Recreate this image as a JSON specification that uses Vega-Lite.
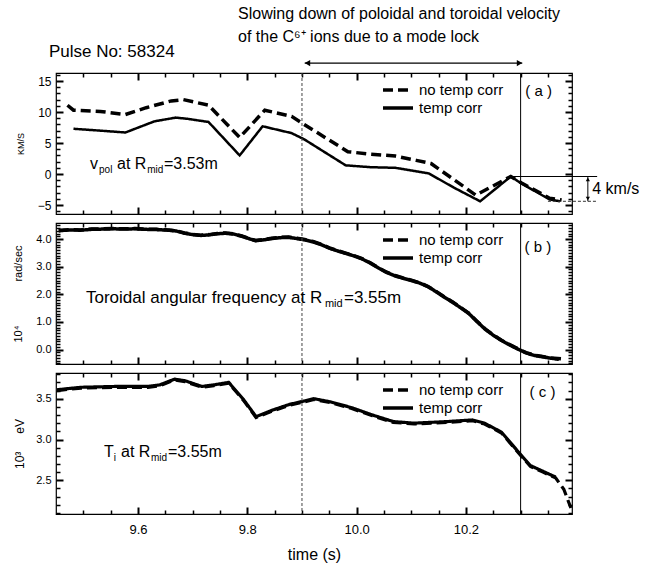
{
  "$schema": "https://vega.github.io/schema/vega-lite/v6.json",
  "background": "white",
  "padding": {"left": 12, "top": 5, "right": 2, "bottom": 2},
  "spacing": 4,
  "config": {
    "font": "Liberation Sans",
    "view": {"stroke": "black", "strokeWidth": 1.2},
    "axis": {"grid": false, "domain": false, "zindex": 1, "labelColor": "black", "titleColor": "black", "titleFontWeight": "normal", "labelFont": "Liberation Sans", "titleFont": "Liberation Sans"},
    "text": {"font": "Liberation Sans", "color": "black"},
    "legend": {"orient": "none", "legendX": 325, "legendY": 9, "title": null, "symbolType": "stroke", "symbolSize": 900, "symbolStrokeWidth": 3.5, "symbolStrokeColor": "black", "labelFontSize": 15, "labelFont": "Liberation Sans", "labelColor": "black", "clipHeight": 16, "rowPadding": 2, "labelOffset": 4}
  },
  "datasets": {
    "a": [
      {"t": 9.471, "v": 11.1, "s": "no temp corr"},
      {"t": 9.482, "v": 10.3, "s": "no temp corr"},
      {"t": 9.531, "v": 10.1, "s": "no temp corr"},
      {"t": 9.577, "v": 9.6, "s": "no temp corr"},
      {"t": 9.615, "v": 10.7, "s": "no temp corr"},
      {"t": 9.661, "v": 11.8, "s": "no temp corr"},
      {"t": 9.683, "v": 12.0, "s": "no temp corr"},
      {"t": 9.729, "v": 11.1, "s": "no temp corr"},
      {"t": 9.786, "v": 5.9, "s": "no temp corr"},
      {"t": 9.832, "v": 10.3, "s": "no temp corr"},
      {"t": 9.881, "v": 9.3, "s": "no temp corr"},
      {"t": 9.904, "v": 8.0, "s": "no temp corr"},
      {"t": 9.984, "v": 3.6, "s": "no temp corr"},
      {"t": 10.026, "v": 3.2, "s": "no temp corr"},
      {"t": 10.071, "v": 2.9, "s": "no temp corr"},
      {"t": 10.109, "v": 2.2, "s": "no temp corr"},
      {"t": 10.136, "v": 1.7, "s": "no temp corr"},
      {"t": 10.218, "v": -3.4, "s": "no temp corr"},
      {"t": 10.282, "v": -0.4, "s": "no temp corr"},
      {"t": 10.301, "v": -1.4, "s": "no temp corr"},
      {"t": 10.353, "v": -3.9, "s": "no temp corr"},
      {"t": 10.375, "v": -4.2, "s": "no temp corr"},
      {"t": 9.482, "v": 7.3, "s": "temp corr"},
      {"t": 9.531, "v": 7.0, "s": "temp corr"},
      {"t": 9.577, "v": 6.7, "s": "temp corr"},
      {"t": 9.63, "v": 8.5, "s": "temp corr"},
      {"t": 9.669, "v": 9.1, "s": "temp corr"},
      {"t": 9.691, "v": 8.9, "s": "temp corr"},
      {"t": 9.729, "v": 8.4, "s": "temp corr"},
      {"t": 9.786, "v": 3.0, "s": "temp corr"},
      {"t": 9.828, "v": 7.7, "s": "temp corr"},
      {"t": 9.881, "v": 6.6, "s": "temp corr"},
      {"t": 9.904, "v": 5.6, "s": "temp corr"},
      {"t": 9.98, "v": 1.4, "s": "temp corr"},
      {"t": 10.026, "v": 1.1, "s": "temp corr"},
      {"t": 10.071, "v": 1.0, "s": "temp corr"},
      {"t": 10.132, "v": 0.1, "s": "temp corr"},
      {"t": 10.178, "v": -2.2, "s": "temp corr"},
      {"t": 10.226, "v": -4.4, "s": "temp corr"},
      {"t": 10.282, "v": -0.4, "s": "temp corr"},
      {"t": 10.301, "v": -1.5, "s": "temp corr"},
      {"t": 10.353, "v": -4.1, "s": "temp corr"},
      {"t": 10.372, "v": -4.4, "s": "temp corr"}
    ],
    "b": [
      {"t": 9.455, "v": 4.31, "s": "no temp corr"},
      {"t": 9.475, "v": 4.34, "s": "no temp corr"},
      {"t": 9.495, "v": 4.33, "s": "no temp corr"},
      {"t": 9.515, "v": 4.36, "s": "no temp corr"},
      {"t": 9.535, "v": 4.37, "s": "no temp corr"},
      {"t": 9.555, "v": 4.38, "s": "no temp corr"},
      {"t": 9.575, "v": 4.37, "s": "no temp corr"},
      {"t": 9.595, "v": 4.38, "s": "no temp corr"},
      {"t": 9.615, "v": 4.36, "s": "no temp corr"},
      {"t": 9.635, "v": 4.35, "s": "no temp corr"},
      {"t": 9.655, "v": 4.33, "s": "no temp corr"},
      {"t": 9.67, "v": 4.30, "s": "no temp corr"},
      {"t": 9.685, "v": 4.22, "s": "no temp corr"},
      {"t": 9.7, "v": 4.17, "s": "no temp corr"},
      {"t": 9.715, "v": 4.14, "s": "no temp corr"},
      {"t": 9.73, "v": 4.16, "s": "no temp corr"},
      {"t": 9.745, "v": 4.20, "s": "no temp corr"},
      {"t": 9.76, "v": 4.22, "s": "no temp corr"},
      {"t": 9.775, "v": 4.19, "s": "no temp corr"},
      {"t": 9.79, "v": 4.11, "s": "no temp corr"},
      {"t": 9.805, "v": 4.01, "s": "no temp corr"},
      {"t": 9.815, "v": 3.95, "s": "no temp corr"},
      {"t": 9.83, "v": 3.98, "s": "no temp corr"},
      {"t": 9.845, "v": 4.03, "s": "no temp corr"},
      {"t": 9.86, "v": 4.06, "s": "no temp corr"},
      {"t": 9.875, "v": 4.07, "s": "no temp corr"},
      {"t": 9.89, "v": 4.03, "s": "no temp corr"},
      {"t": 9.905, "v": 3.98, "s": "no temp corr"},
      {"t": 9.92, "v": 3.91, "s": "no temp corr"},
      {"t": 9.935, "v": 3.81, "s": "no temp corr"},
      {"t": 9.95, "v": 3.68, "s": "no temp corr"},
      {"t": 9.965, "v": 3.58, "s": "no temp corr"},
      {"t": 9.98, "v": 3.49, "s": "no temp corr"},
      {"t": 9.995, "v": 3.40, "s": "no temp corr"},
      {"t": 10.01, "v": 3.29, "s": "no temp corr"},
      {"t": 10.025, "v": 3.14, "s": "no temp corr"},
      {"t": 10.04, "v": 2.96, "s": "no temp corr"},
      {"t": 10.055, "v": 2.80, "s": "no temp corr"},
      {"t": 10.07, "v": 2.68, "s": "no temp corr"},
      {"t": 10.085, "v": 2.59, "s": "no temp corr"},
      {"t": 10.1, "v": 2.51, "s": "no temp corr"},
      {"t": 10.115, "v": 2.42, "s": "no temp corr"},
      {"t": 10.13, "v": 2.29, "s": "no temp corr"},
      {"t": 10.145, "v": 2.11, "s": "no temp corr"},
      {"t": 10.16, "v": 1.91, "s": "no temp corr"},
      {"t": 10.175, "v": 1.73, "s": "no temp corr"},
      {"t": 10.19, "v": 1.53, "s": "no temp corr"},
      {"t": 10.205, "v": 1.32, "s": "no temp corr"},
      {"t": 10.22, "v": 1.03, "s": "no temp corr"},
      {"t": 10.235, "v": 0.75, "s": "no temp corr"},
      {"t": 10.25, "v": 0.53, "s": "no temp corr"},
      {"t": 10.265, "v": 0.34, "s": "no temp corr"},
      {"t": 10.28, "v": 0.18, "s": "no temp corr"},
      {"t": 10.295, "v": 0.03, "s": "no temp corr"},
      {"t": 10.31, "v": -0.11, "s": "no temp corr"},
      {"t": 10.325, "v": -0.20, "s": "no temp corr"},
      {"t": 10.34, "v": -0.25, "s": "no temp corr"},
      {"t": 10.355, "v": -0.30, "s": "no temp corr"},
      {"t": 10.375, "v": -0.33, "s": "no temp corr"},
      {"t": 9.455, "v": 4.30, "s": "temp corr"},
      {"t": 9.475, "v": 4.33, "s": "temp corr"},
      {"t": 9.495, "v": 4.32, "s": "temp corr"},
      {"t": 9.515, "v": 4.35, "s": "temp corr"},
      {"t": 9.535, "v": 4.36, "s": "temp corr"},
      {"t": 9.555, "v": 4.37, "s": "temp corr"},
      {"t": 9.575, "v": 4.36, "s": "temp corr"},
      {"t": 9.595, "v": 4.37, "s": "temp corr"},
      {"t": 9.615, "v": 4.35, "s": "temp corr"},
      {"t": 9.635, "v": 4.34, "s": "temp corr"},
      {"t": 9.655, "v": 4.32, "s": "temp corr"},
      {"t": 9.67, "v": 4.29, "s": "temp corr"},
      {"t": 9.685, "v": 4.21, "s": "temp corr"},
      {"t": 9.7, "v": 4.16, "s": "temp corr"},
      {"t": 9.715, "v": 4.13, "s": "temp corr"},
      {"t": 9.73, "v": 4.15, "s": "temp corr"},
      {"t": 9.745, "v": 4.19, "s": "temp corr"},
      {"t": 9.76, "v": 4.21, "s": "temp corr"},
      {"t": 9.775, "v": 4.18, "s": "temp corr"},
      {"t": 9.79, "v": 4.10, "s": "temp corr"},
      {"t": 9.805, "v": 4.00, "s": "temp corr"},
      {"t": 9.815, "v": 3.94, "s": "temp corr"},
      {"t": 9.83, "v": 3.97, "s": "temp corr"},
      {"t": 9.845, "v": 4.02, "s": "temp corr"},
      {"t": 9.86, "v": 4.05, "s": "temp corr"},
      {"t": 9.875, "v": 4.06, "s": "temp corr"},
      {"t": 9.89, "v": 4.02, "s": "temp corr"},
      {"t": 9.905, "v": 3.97, "s": "temp corr"},
      {"t": 9.92, "v": 3.90, "s": "temp corr"},
      {"t": 9.935, "v": 3.80, "s": "temp corr"},
      {"t": 9.95, "v": 3.67, "s": "temp corr"},
      {"t": 9.965, "v": 3.57, "s": "temp corr"},
      {"t": 9.98, "v": 3.48, "s": "temp corr"},
      {"t": 9.995, "v": 3.39, "s": "temp corr"},
      {"t": 10.01, "v": 3.28, "s": "temp corr"},
      {"t": 10.025, "v": 3.13, "s": "temp corr"},
      {"t": 10.04, "v": 2.95, "s": "temp corr"},
      {"t": 10.055, "v": 2.79, "s": "temp corr"},
      {"t": 10.07, "v": 2.67, "s": "temp corr"},
      {"t": 10.085, "v": 2.58, "s": "temp corr"},
      {"t": 10.1, "v": 2.50, "s": "temp corr"},
      {"t": 10.115, "v": 2.41, "s": "temp corr"},
      {"t": 10.13, "v": 2.28, "s": "temp corr"},
      {"t": 10.145, "v": 2.10, "s": "temp corr"},
      {"t": 10.16, "v": 1.90, "s": "temp corr"},
      {"t": 10.175, "v": 1.72, "s": "temp corr"},
      {"t": 10.19, "v": 1.52, "s": "temp corr"},
      {"t": 10.205, "v": 1.31, "s": "temp corr"},
      {"t": 10.22, "v": 1.02, "s": "temp corr"},
      {"t": 10.235, "v": 0.74, "s": "temp corr"},
      {"t": 10.25, "v": 0.52, "s": "temp corr"},
      {"t": 10.265, "v": 0.33, "s": "temp corr"},
      {"t": 10.28, "v": 0.17, "s": "temp corr"},
      {"t": 10.295, "v": 0.02, "s": "temp corr"},
      {"t": 10.31, "v": -0.12, "s": "temp corr"},
      {"t": 10.325, "v": -0.21, "s": "temp corr"},
      {"t": 10.34, "v": -0.26, "s": "temp corr"},
      {"t": 10.355, "v": -0.31, "s": "temp corr"},
      {"t": 10.37, "v": -0.35, "s": "temp corr"}
    ],
    "c": [
      {"t": 9.452, "v": 3.60, "s": "no temp corr"},
      {"t": 9.496, "v": 3.63, "s": "no temp corr"},
      {"t": 9.557, "v": 3.64, "s": "no temp corr"},
      {"t": 9.618, "v": 3.64, "s": "no temp corr"},
      {"t": 9.64, "v": 3.66, "s": "no temp corr"},
      {"t": 9.667, "v": 3.73, "s": "no temp corr"},
      {"t": 9.686, "v": 3.71, "s": "no temp corr"},
      {"t": 9.717, "v": 3.64, "s": "no temp corr"},
      {"t": 9.739, "v": 3.66, "s": "no temp corr"},
      {"t": 9.766, "v": 3.69, "s": "no temp corr"},
      {"t": 9.793, "v": 3.48, "s": "no temp corr"},
      {"t": 9.816, "v": 3.27, "s": "no temp corr"},
      {"t": 9.846, "v": 3.35, "s": "no temp corr"},
      {"t": 9.877, "v": 3.42, "s": "no temp corr"},
      {"t": 9.903, "v": 3.46, "s": "no temp corr"},
      {"t": 9.922, "v": 3.49, "s": "no temp corr"},
      {"t": 9.953, "v": 3.45, "s": "no temp corr"},
      {"t": 9.991, "v": 3.38, "s": "no temp corr"},
      {"t": 10.029, "v": 3.29, "s": "no temp corr"},
      {"t": 10.067, "v": 3.21, "s": "no temp corr"},
      {"t": 10.105, "v": 3.19, "s": "no temp corr"},
      {"t": 10.166, "v": 3.21, "s": "no temp corr"},
      {"t": 10.212, "v": 3.23, "s": "no temp corr"},
      {"t": 10.234, "v": 3.19, "s": "no temp corr"},
      {"t": 10.265, "v": 3.08, "s": "no temp corr"},
      {"t": 10.302, "v": 2.79, "s": "no temp corr"},
      {"t": 10.318, "v": 2.67, "s": "no temp corr"},
      {"t": 10.341, "v": 2.60, "s": "no temp corr"},
      {"t": 10.364, "v": 2.53, "s": "no temp corr"},
      {"t": 10.379, "v": 2.39, "s": "no temp corr"},
      {"t": 10.392, "v": 2.16, "s": "no temp corr"},
      {"t": 9.452, "v": 3.61, "s": "temp corr"},
      {"t": 9.496, "v": 3.64, "s": "temp corr"},
      {"t": 9.557, "v": 3.65, "s": "temp corr"},
      {"t": 9.618, "v": 3.65, "s": "temp corr"},
      {"t": 9.64, "v": 3.67, "s": "temp corr"},
      {"t": 9.667, "v": 3.74, "s": "temp corr"},
      {"t": 9.686, "v": 3.72, "s": "temp corr"},
      {"t": 9.717, "v": 3.65, "s": "temp corr"},
      {"t": 9.739, "v": 3.67, "s": "temp corr"},
      {"t": 9.766, "v": 3.70, "s": "temp corr"},
      {"t": 9.793, "v": 3.49, "s": "temp corr"},
      {"t": 9.816, "v": 3.28, "s": "temp corr"},
      {"t": 9.846, "v": 3.36, "s": "temp corr"},
      {"t": 9.877, "v": 3.43, "s": "temp corr"},
      {"t": 9.903, "v": 3.47, "s": "temp corr"},
      {"t": 9.922, "v": 3.50, "s": "temp corr"},
      {"t": 9.953, "v": 3.46, "s": "temp corr"},
      {"t": 9.991, "v": 3.39, "s": "temp corr"},
      {"t": 10.029, "v": 3.30, "s": "temp corr"},
      {"t": 10.067, "v": 3.22, "s": "temp corr"},
      {"t": 10.105, "v": 3.20, "s": "temp corr"},
      {"t": 10.166, "v": 3.22, "s": "temp corr"},
      {"t": 10.212, "v": 3.24, "s": "temp corr"},
      {"t": 10.234, "v": 3.20, "s": "temp corr"},
      {"t": 10.265, "v": 3.09, "s": "temp corr"},
      {"t": 10.302, "v": 2.80, "s": "temp corr"},
      {"t": 10.318, "v": 2.68, "s": "temp corr"},
      {"t": 10.341, "v": 2.61, "s": "temp corr"},
      {"t": 10.364, "v": 2.54, "s": "temp corr"}
    ]
  },
  "resolve": {"scale": {"x": "independent", "y": "independent", "strokeDash": "independent"}, "legend": {"strokeDash": "independent"}},
  "vconcat": [
    {
      "width": 516, "height": 141,
      "data": {"name": "a"},
      "resolve": {"axis": {"x": "independent", "y": "independent"}},
      "layer": [
        {
          "transform": [{"filter": "datum.s === 'no temp corr'"}],
          "mark": {"type": "line", "color": "black", "strokeWidth": 3.5},
          "encoding": {
            "x": {"field": "t", "type": "quantitative", "scale": {"domain": [9.45, 10.394], "nice": false, "zero": false}, "axis": {"orient": "bottom", "values": [9.6, 9.8, 10.0, 10.2], "labels": false, "ticks": true, "offset": -7, "tickSize": 7, "tickColor": "#000", "tickWidth": 2, "title": null}},
            "y": {"field": "v", "type": "quantitative", "scale": {"domain": [-6.45, 16.3], "nice": false, "zero": false}, "axis": {"orient": "left", "values": [-5, 0, 5, 10, 15], "format": "d", "ticks": true, "offset": -7, "tickSize": 7, "tickColor": "#000", "tickWidth": 2, "labelPadding": 5, "labelFontSize": 12, "title": "KM/S", "titleFontSize": 9, "titlePadding": 12}},
            "strokeDash": {"field": "s", "type": "nominal", "scale": {"domain": ["no temp corr", "temp corr"], "range": [[10, 5], [1, 0]]}}
          }
        },
        {"data": {"values": [{"t": 9.6, "v": 0}]}, "mark": {"type": "point", "opacity": 0},
          "encoding": {"x": {"field": "t", "type": "quantitative", "axis": {"orient": "top", "values": [9.6, 9.8, 10.0, 10.2], "labels": false, "ticks": true, "offset": -7, "tickSize": 7, "tickColor": "#000", "tickWidth": 2, "title": null}},
                       "y": {"field": "v", "type": "quantitative", "axis": {"orient": "right", "values": [-5, 0, 5, 10, 15], "labels": false, "ticks": true, "offset": -7, "tickSize": 7, "tickColor": "#000", "tickWidth": 2, "title": null}}}},
        {"data": {"values": [{"t": 9.6, "v": 0}]}, "mark": {"type": "point", "opacity": 0},
          "encoding": {"x": {"field": "t", "type": "quantitative", "axis": {"orient": "bottom", "values": [9.5, 9.55, 9.65, 9.7, 9.75, 9.85, 9.9, 9.95, 10.05, 10.1, 10.15, 10.25, 10.3, 10.35], "labels": false, "ticks": true, "offset": -4, "tickSize": 4, "tickColor": "#000", "tickWidth": 1.5, "title": null}},
                       "y": {"field": "v", "type": "quantitative", "axis": {"orient": "left", "values": [-6, -4, -3, -2, -1, 1, 2, 3, 4, 6, 7, 8, 9, 11, 12, 13, 14, 16], "labels": false, "ticks": true, "offset": -4, "tickSize": 4, "tickColor": "#000", "tickWidth": 1.5, "title": null}}}},
        {"data": {"values": [{"t": 9.6, "v": 0}]}, "mark": {"type": "point", "opacity": 0},
          "encoding": {"x": {"field": "t", "type": "quantitative", "axis": {"orient": "top", "values": [9.5, 9.55, 9.65, 9.7, 9.75, 9.85, 9.9, 9.95, 10.05, 10.1, 10.15, 10.25, 10.3, 10.35], "labels": false, "ticks": true, "offset": -4, "tickSize": 4, "tickColor": "#000", "tickWidth": 1.5, "title": null}},
                       "y": {"field": "v", "type": "quantitative", "axis": {"orient": "right", "values": [-6, -4, -3, -2, -1, 1, 2, 3, 4, 6, 7, 8, 9, 11, 12, 13, 14, 16], "labels": false, "ticks": true, "offset": -4, "tickSize": 4, "tickColor": "#000", "tickWidth": 1.5, "title": null}}}},
        {
          "transform": [{"filter": "datum.s === 'temp corr'"}],
          "mark": {"type": "line", "color": "black", "strokeWidth": 2.5},
          "encoding": {
            "x": {"field": "t", "type": "quantitative", "axis": null},
            "y": {"field": "v", "type": "quantitative", "axis": null},
            "strokeDash": {"field": "s", "type": "nominal"}
          }
        },
        {"data": {"values": [{"t": 9.9}]}, "mark": {"type": "rule", "color": "#444", "strokeWidth": 1, "strokeDash": [3, 2]}, "encoding": {"x": {"field": "t", "type": "quantitative", "axis": null}}},
        {"data": {"values": [{"t": 10.3}]}, "mark": {"type": "rule", "color": "black", "strokeWidth": 1}, "encoding": {"x": {"field": "t", "type": "quantitative", "axis": null}}},
        {"data": {"values": [{"t": 9.905, "t2": 10.303, "v": 17.9}, {"t": 10.286, "t2": 10.44, "v": -0.4}]}, "mark": {"type": "rule", "color": "black", "strokeWidth": 1.1},
          "encoding": {"x": {"field": "t", "type": "quantitative", "axis": null}, "x2": {"field": "t2"}, "y": {"field": "v", "type": "quantitative", "axis": null}}},
        {"data": {"values": [{"t": 10.35, "t2": 10.44, "v": -4.4}]}, "mark": {"type": "rule", "color": "#333", "strokeWidth": 1, "strokeDash": [3, 2]},
          "encoding": {"x": {"field": "t", "type": "quantitative", "axis": null}, "x2": {"field": "t2"}, "y": {"field": "v", "type": "quantitative", "axis": null}}},
        {"data": {"values": [{"t": 10.423, "v": -0.4, "v2": -4.4}]}, "mark": {"type": "rule", "color": "black", "strokeWidth": 1},
          "encoding": {"x": {"field": "t", "type": "quantitative", "axis": null}, "y": {"field": "v", "type": "quantitative", "axis": null}, "y2": {"field": "v2"}}},
        {"data": {"values": [{"t": 9.91, "v": 17.9}]}, "mark": {"type": "point", "shape": "triangle-left", "filled": true, "color": "black", "opacity": 1, "size": 40},
          "encoding": {"x": {"field": "t", "type": "quantitative", "axis": null}, "y": {"field": "v", "type": "quantitative", "axis": null}}},
        {"data": {"values": [{"t": 10.298, "v": 17.9}]}, "mark": {"type": "point", "shape": "triangle-right", "filled": true, "color": "black", "opacity": 1, "size": 40},
          "encoding": {"x": {"field": "t", "type": "quantitative", "axis": null}, "y": {"field": "v", "type": "quantitative", "axis": null}}},
        {"data": {"values": [{"t": 10.423, "v": -0.85}]}, "mark": {"type": "point", "shape": "triangle-up", "filled": true, "color": "black", "opacity": 1, "size": 18},
          "encoding": {"x": {"field": "t", "type": "quantitative", "axis": null}, "y": {"field": "v", "type": "quantitative", "axis": null}}},
        {"data": {"values": [{"t": 10.423, "v": -3.95}]}, "mark": {"type": "point", "shape": "triangle-down", "filled": true, "color": "black", "opacity": 1, "size": 18},
          "encoding": {"x": {"field": "t", "type": "quantitative", "axis": null}, "y": {"field": "v", "type": "quantitative", "axis": null}}},
        {"data": {"values": [
            {"t": 9.783, "v": 25.8, "label": "Slowing down of poloidal and toroidal velocity"},
            {"t": 9.783, "v": 22.1, "label": "of the C⁶⁺ ions due to a mode lock"},
            {"t": 9.5122, "v": 1.6, "label": "v"},
            {"t": 9.5616, "v": 1.6, "label": "at R"},
            {"t": 9.6475, "v": 1.6, "label": "=3.53m"},
            {"t": 10.431, "v": -2.4, "label": "4 km/s"}
          ]},
          "mark": {"type": "text", "align": "left", "baseline": "middle", "fontSize": 16, "color": "black"},
          "encoding": {"x": {"field": "t", "type": "quantitative", "axis": null}, "y": {"field": "v", "type": "quantitative", "axis": null}, "text": {"field": "label"}}},
        {"data": {"values": [{"t": 9.437, "v": 19.7, "label": "Pulse No: 58324"}]},
          "mark": {"type": "text", "align": "left", "baseline": "middle", "fontSize": 17, "color": "black"},
          "encoding": {"x": {"field": "t", "type": "quantitative", "axis": null}, "y": {"field": "v", "type": "quantitative", "axis": null}, "text": {"field": "label"}}},
        {"data": {"values": [{"t": 9.5287, "v": 0.65, "label": "pol"}, {"t": 9.6169, "v": 0.65, "label": "mid"}]},
          "mark": {"type": "text", "align": "left", "baseline": "middle", "fontSize": 10, "color": "black"},
          "encoding": {"x": {"field": "t", "type": "quantitative", "axis": null}, "y": {"field": "v", "type": "quantitative", "axis": null}, "text": {"field": "label"}}},
        {"data": {"values": [{"t": 10.333, "v": 13.4, "label": "( a )"}]},
          "mark": {"type": "text", "align": "center", "baseline": "middle", "fontSize": 15, "color": "black"},
          "encoding": {"x": {"field": "t", "type": "quantitative", "axis": null}, "y": {"field": "v", "type": "quantitative", "axis": null}, "text": {"field": "label"}}}
      ]
    },
    {
      "width": 516, "height": 141,
      "data": {"name": "b"},
      "resolve": {"axis": {"x": "independent", "y": "independent"}},
      "layer": [
        {
          "transform": [{"filter": "datum.s === 'no temp corr'"}],
          "mark": {"type": "line", "color": "black", "strokeWidth": 3.5},
          "encoding": {
            "x": {"field": "t", "type": "quantitative", "scale": {"domain": [9.45, 10.394], "nice": false, "zero": false}, "axis": {"orient": "bottom", "values": [9.6, 9.8, 10.0, 10.2], "labels": false, "ticks": true, "offset": -7, "tickSize": 7, "tickColor": "#000", "tickWidth": 2, "title": null}},
            "y": {"field": "v", "type": "quantitative", "scale": {"domain": [-0.52, 4.58], "nice": false, "zero": false}, "axis": {"orient": "left", "values": [0, 1, 2, 3, 4], "format": ".1f", "ticks": true, "offset": -7, "tickSize": 7, "tickColor": "#000", "tickWidth": 2, "labelPadding": 5, "labelFontSize": 11, "title": "10⁴\u2003\u2003\u2003\u2003rad/sec", "titleFontSize": 11, "titlePadding": 12}},
            "strokeDash": {"field": "s", "type": "nominal", "scale": {"domain": ["no temp corr", "temp corr"], "range": [[10, 5], [1, 0]]}}
          }
        },
        {"data": {"values": [{"t": 9.6, "v": 1}]}, "mark": {"type": "point", "opacity": 0},
          "encoding": {"x": {"field": "t", "type": "quantitative", "axis": {"orient": "top", "values": [9.6, 9.8, 10.0, 10.2], "labels": false, "ticks": true, "offset": -7, "tickSize": 7, "tickColor": "#000", "tickWidth": 2, "title": null}},
                       "y": {"field": "v", "type": "quantitative", "axis": {"orient": "right", "values": [0, 1, 2, 3, 4], "labels": false, "ticks": true, "offset": -7, "tickSize": 7, "tickColor": "#000", "tickWidth": 2, "title": null}}}},
        {"data": {"values": [{"t": 9.6, "v": 1}]}, "mark": {"type": "point", "opacity": 0},
          "encoding": {"x": {"field": "t", "type": "quantitative", "axis": {"orient": "bottom", "values": [9.5, 9.55, 9.65, 9.7, 9.75, 9.85, 9.9, 9.95, 10.05, 10.1, 10.15, 10.25, 10.3, 10.35], "labels": false, "ticks": true, "offset": -4, "tickSize": 4, "tickColor": "#000", "tickWidth": 1.5, "title": null}},
                       "y": {"field": "v", "type": "quantitative", "axis": {"orient": "left", "values": [-0.5, -0.4, -0.3, -0.2, -0.1, 0.1, 0.2, 0.3, 0.4, 0.5, 0.6, 0.7, 0.8, 0.9, 1.1, 1.2, 1.3, 1.4, 1.5, 1.6, 1.7, 1.8, 1.9, 2.1, 2.2, 2.3, 2.4, 2.5, 2.6, 2.7, 2.8, 2.9, 3.1, 3.2, 3.3, 3.4, 3.5, 3.6, 3.7, 3.8, 3.9, 4.1, 4.2, 4.3, 4.4, 4.5], "labels": false, "ticks": true, "offset": -4, "tickSize": 4, "tickColor": "#000", "tickWidth": 1.5, "title": null}}}},
        {"data": {"values": [{"t": 9.6, "v": 1}]}, "mark": {"type": "point", "opacity": 0},
          "encoding": {"x": {"field": "t", "type": "quantitative", "axis": {"orient": "top", "values": [9.5, 9.55, 9.65, 9.7, 9.75, 9.85, 9.9, 9.95, 10.05, 10.1, 10.15, 10.25, 10.3, 10.35], "labels": false, "ticks": true, "offset": -4, "tickSize": 4, "tickColor": "#000", "tickWidth": 1.5, "title": null}},
                       "y": {"field": "v", "type": "quantitative", "axis": {"orient": "right", "values": [-0.5, -0.4, -0.3, -0.2, -0.1, 0.1, 0.2, 0.3, 0.4, 0.5, 0.6, 0.7, 0.8, 0.9, 1.1, 1.2, 1.3, 1.4, 1.5, 1.6, 1.7, 1.8, 1.9, 2.1, 2.2, 2.3, 2.4, 2.5, 2.6, 2.7, 2.8, 2.9, 3.1, 3.2, 3.3, 3.4, 3.5, 3.6, 3.7, 3.8, 3.9, 4.1, 4.2, 4.3, 4.4, 4.5], "labels": false, "ticks": true, "offset": -4, "tickSize": 4, "tickColor": "#000", "tickWidth": 1.5, "title": null}}}},
        {
          "transform": [{"filter": "datum.s === 'temp corr'"}],
          "mark": {"type": "line", "color": "black", "strokeWidth": 3.5},
          "encoding": {
            "x": {"field": "t", "type": "quantitative", "axis": null},
            "y": {"field": "v", "type": "quantitative", "axis": null},
            "strokeDash": {"field": "s", "type": "nominal"}
          }
        },
        {"data": {"values": [{"t": 9.9}]}, "mark": {"type": "rule", "color": "#444", "strokeWidth": 1, "strokeDash": [3, 2]}, "encoding": {"x": {"field": "t", "type": "quantitative", "axis": null}}},
        {"data": {"values": [{"t": 10.3}]}, "mark": {"type": "rule", "color": "black", "strokeWidth": 1}, "encoding": {"x": {"field": "t", "type": "quantitative", "axis": null}}},
        {"data": {"values": [{"t": 9.5049, "v": 1.87, "label": "Toroidal angular frequency at R"}, {"t": 9.9768, "v": 1.87, "label": "=3.55m"}]},
          "mark": {"type": "text", "align": "left", "baseline": "middle", "fontSize": 17, "color": "black"},
          "encoding": {"x": {"field": "t", "type": "quantitative", "axis": null}, "y": {"field": "v", "type": "quantitative", "axis": null}, "text": {"field": "label"}}},
        {"data": {"values": [{"t": 9.942, "v": 1.64, "label": "mid"}]},
          "mark": {"type": "text", "align": "left", "baseline": "middle", "fontSize": 11, "color": "black"},
          "encoding": {"x": {"field": "t", "type": "quantitative", "axis": null}, "y": {"field": "v", "type": "quantitative", "axis": null}, "text": {"field": "label"}}},
        {"data": {"values": [{"t": 10.3317, "v": 3.71, "label": "( b )"}]},
          "mark": {"type": "text", "align": "center", "baseline": "middle", "fontSize": 15, "color": "black"},
          "encoding": {"x": {"field": "t", "type": "quantitative", "axis": null}, "y": {"field": "v", "type": "quantitative", "axis": null}, "text": {"field": "label"}}}
      ]
    },
    {
      "width": 516, "height": 141,
      "data": {"name": "c"},
      "resolve": {"axis": {"x": "independent", "y": "independent"}},
      "layer": [
        {
          "transform": [{"filter": "datum.s === 'no temp corr'"}],
          "mark": {"type": "line", "color": "black", "strokeWidth": 3.2},
          "encoding": {
            "x": {"field": "t", "type": "quantitative", "scale": {"domain": [9.45, 10.394], "nice": false, "zero": false}, "axis": {"orient": "bottom", "values": [9.6, 9.8, 10.0, 10.2], "format": ".1f", "labelFontSize": 13, "labelPadding": 9, "ticks": true, "offset": -7, "tickSize": 7, "tickColor": "#000", "tickWidth": 2, "title": "time (s)", "titleFontSize": 16, "titlePadding": 10}},
            "y": {"field": "v", "type": "quantitative", "scale": {"domain": [2.087, 3.815], "nice": false, "zero": false}, "axis": {"orient": "left", "values": [2.5, 3.0, 3.5], "format": ".1f", "ticks": true, "offset": -7, "tickSize": 7, "tickColor": "#000", "tickWidth": 2, "labelPadding": 5, "labelFontSize": 11, "title": "10³\u2003\u2002eV", "titleFontSize": 12, "titlePadding": 9}},
            "strokeDash": {"field": "s", "type": "nominal", "scale": {"domain": ["no temp corr", "temp corr"], "range": [[10, 5], [1, 0]]}}
          }
        },
        {"data": {"values": [{"t": 9.6, "v": 3}]}, "mark": {"type": "point", "opacity": 0},
          "encoding": {"x": {"field": "t", "type": "quantitative", "axis": {"orient": "top", "values": [9.6, 9.8, 10.0, 10.2], "labels": false, "ticks": true, "offset": -7, "tickSize": 7, "tickColor": "#000", "tickWidth": 2, "title": null}},
                       "y": {"field": "v", "type": "quantitative", "axis": {"orient": "right", "values": [2.5, 3.0, 3.5], "labels": false, "ticks": true, "offset": -7, "tickSize": 7, "tickColor": "#000", "tickWidth": 2, "title": null}}}},
        {"data": {"values": [{"t": 9.6, "v": 3}]}, "mark": {"type": "point", "opacity": 0},
          "encoding": {"x": {"field": "t", "type": "quantitative", "axis": {"orient": "bottom", "values": [9.5, 9.55, 9.65, 9.7, 9.75, 9.85, 9.9, 9.95, 10.05, 10.1, 10.15, 10.25, 10.3, 10.35], "labels": false, "ticks": true, "offset": -4, "tickSize": 4, "tickColor": "#000", "tickWidth": 1.5, "title": null}},
                       "y": {"field": "v", "type": "quantitative", "axis": {"orient": "left", "values": [2.1, 2.2, 2.3, 2.4, 2.6, 2.7, 2.8, 2.9, 3.1, 3.2, 3.3, 3.4, 3.6, 3.7, 3.8], "labels": false, "ticks": true, "offset": -4, "tickSize": 4, "tickColor": "#000", "tickWidth": 1.5, "title": null}}}},
        {"data": {"values": [{"t": 9.6, "v": 3}]}, "mark": {"type": "point", "opacity": 0},
          "encoding": {"x": {"field": "t", "type": "quantitative", "axis": {"orient": "top", "values": [9.5, 9.55, 9.65, 9.7, 9.75, 9.85, 9.9, 9.95, 10.05, 10.1, 10.15, 10.25, 10.3, 10.35], "labels": false, "ticks": true, "offset": -4, "tickSize": 4, "tickColor": "#000", "tickWidth": 1.5, "title": null}},
                       "y": {"field": "v", "type": "quantitative", "axis": {"orient": "right", "values": [2.1, 2.2, 2.3, 2.4, 2.6, 2.7, 2.8, 2.9, 3.1, 3.2, 3.3, 3.4, 3.6, 3.7, 3.8], "labels": false, "ticks": true, "offset": -4, "tickSize": 4, "tickColor": "#000", "tickWidth": 1.5, "title": null}}}},
        {
          "transform": [{"filter": "datum.s === 'temp corr'"}],
          "mark": {"type": "line", "color": "black", "strokeWidth": 3.2},
          "encoding": {
            "x": {"field": "t", "type": "quantitative", "axis": null},
            "y": {"field": "v", "type": "quantitative", "axis": null},
            "strokeDash": {"field": "s", "type": "nominal"}
          }
        },
        {"data": {"values": [{"t": 9.9}]}, "mark": {"type": "rule", "color": "#444", "strokeWidth": 1, "strokeDash": [3, 2]}, "encoding": {"x": {"field": "t", "type": "quantitative", "axis": null}}},
        {"data": {"values": [{"t": 10.3}]}, "mark": {"type": "rule", "color": "black", "strokeWidth": 1}, "encoding": {"x": {"field": "t", "type": "quantitative", "axis": null}}},
        {"data": {"values": [{"t": 9.5378, "v": 2.85, "label": "T"}, {"t": 9.5689, "v": 2.85, "label": "at R"}, {"t": 9.6549, "v": 2.85, "label": "=3.55m"}]},
          "mark": {"type": "text", "align": "left", "baseline": "middle", "fontSize": 16, "color": "black"},
          "encoding": {"x": {"field": "t", "type": "quantitative", "axis": null}, "y": {"field": "v", "type": "quantitative", "axis": null}, "text": {"field": "label"}}},
        {"data": {"values": [{"t": 9.5555, "v": 2.776, "label": "i"}, {"t": 9.6238, "v": 2.776, "label": "mid"}]},
          "mark": {"type": "text", "align": "left", "baseline": "middle", "fontSize": 10, "color": "black"},
          "encoding": {"x": {"field": "t", "type": "quantitative", "axis": null}, "y": {"field": "v", "type": "quantitative", "axis": null}, "text": {"field": "label"}}},
        {"data": {"values": [{"t": 10.34, "v": 3.58, "label": "( c )"}]},
          "mark": {"type": "text", "align": "center", "baseline": "middle", "fontSize": 15, "color": "black"},
          "encoding": {"x": {"field": "t", "type": "quantitative", "axis": null}, "y": {"field": "v", "type": "quantitative", "axis": null}, "text": {"field": "label"}}}
      ]
    }
  ]
}
